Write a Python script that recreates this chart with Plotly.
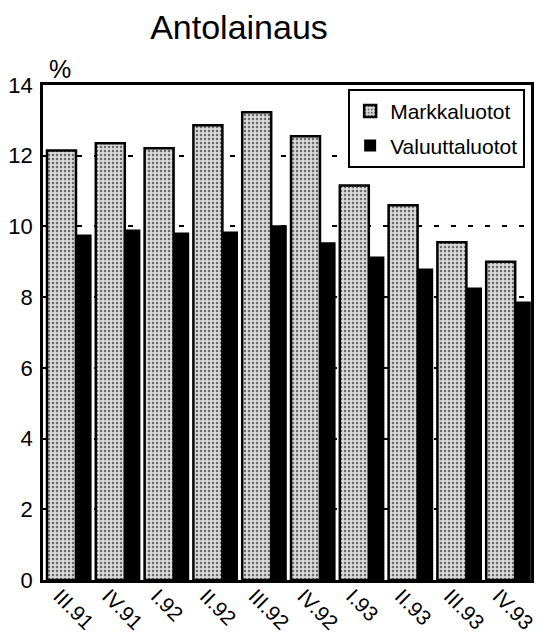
import plotly.graph_objects as go

categories = ["III.91", "IV.91", "I.92", "II.92", "III.92", "IV.92", "I.93", "II.93", "III.93", "IV.93"]
markkaluotot = [12.15, 12.35, 12.21, 12.86, 13.23, 12.55, 11.16, 10.6, 9.55, 9.0]
valuuttaluotot = [9.77, 9.91, 9.83, 9.86, 10.03, 9.55, 9.15, 8.81, 8.27, 7.88]
y_ticks = [0, 2, 4, 6, 8, 10, 12, 14]

FONT = "Liberation Sans, Arial, sans-serif"
W, H = 545, 632  # page body has an 8px margin

fig = go.Figure()
fig.add_trace(go.Bar(
    x=categories, y=markkaluotot, name="Markkaluotot",
    offset=-0.418, width=0.594,
    marker=dict(color="#c4c4c4",
                line=dict(color="black", width=2.5),
                pattern=dict(shape=".", fgcolor="#6a6a6a", bgcolor="#dadada",
                             size=4, solidity=0.3, fillmode="replace")),
    legendgroup="a",
))
fig.add_trace(go.Bar(
    x=categories, y=valuuttaluotot, name="Valuuttaluotot",
    offset=0.176, width=0.32,
    marker=dict(color="black", line=dict(width=0)),
    legendgroup="b",
))

fig.update_layout(
    width=W, height=H,
    margin=dict(l=35, r=22, t=77, b=60, autoexpand=False),
    paper_bgcolor="white", plot_bgcolor="white",
    barmode="overlay",
    font=dict(family=FONT, color="black"),
    title=dict(text="Antolainaus", x=231 / W, xanchor="center", xref="container",
               y=1 - 19 / H, yanchor="middle", yref="container",
               font=dict(size=34, family=FONT, color="black")),
    showlegend=True,
    legend=dict(x=0.988, xanchor="right", y=0.992, yanchor="top",
                bgcolor="white", bordercolor="black", borderwidth=2,
                font=dict(size=21, family=FONT, color="black"),
                traceorder="grouped", tracegroupgap=4,
                itemwidth=30),
    annotations=[dict(text="%", x=(60 - 43) / 488, y=(580 - 69) / 495,
                      xref="paper", yref="paper",
                      xanchor="center", yanchor="middle", showarrow=False,
                      font=dict(size=25, family=FONT, color="black"))],
)
fig.update_xaxes(
    type="category", range=[-0.5, 9.5], tickangle=45, automargin=False,
    showline=True, linecolor="black", linewidth=2.5, mirror=True,
    showgrid=False, ticks="", ticklabelshift=-8, ticklabelstandoff=-7,
    tickfont=dict(size=21, family=FONT, color="black"),
)
fig.update_yaxes(
    range=[0, 14], tickvals=y_ticks, ticktext=[str(v) for v in y_ticks],
    automargin=False,
    showline=True, linecolor="black", linewidth=2.5, mirror=True,
    showgrid=True, gridcolor="black", gridwidth=1.5, griddash="5px,12px",
    zeroline=False, ticks="", ticklabelstandoff=3,
    tickfont=dict(size=22, family=FONT, color="black"),
)

fig.write_html("out.html")
